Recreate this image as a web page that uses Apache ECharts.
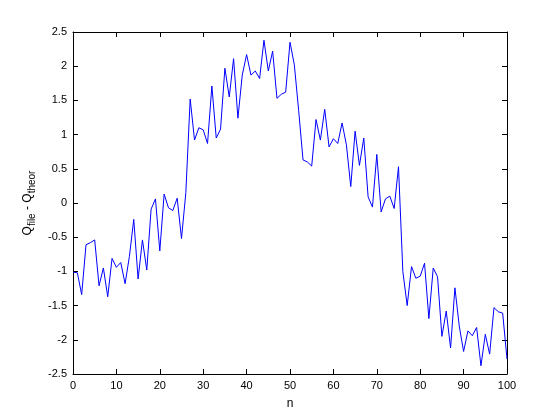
<!DOCTYPE html>
<html>
<head>
<meta charset="utf-8">
<script src="https://cdn.jsdelivr.net/npm/echarts@6/dist/echarts.min.js"></script>
<style>html,body{margin:0;padding:0;background:#fff;}#c{width:560px;height:420px;}</style>
</head>
<body>
<div id="c"></div>
<script>
var nValues = [];
for (var i = 0; i <= 100; i++) nValues.push(i);
var dq = [
 -1.01,-1.02,-1.34,-0.61,-0.58,-0.54,-1.21,-0.95,-1.37,-0.81,
 -0.94,-0.87,-1.18,-0.78,-0.24,-1.11,-0.54,-0.98,-0.09,0.06,
 -0.70,0.13,-0.07,-0.11,0.07,-0.52,0.15,1.52,0.92,1.10,
 1.07,0.87,1.71,0.95,1.08,1.97,1.55,2.11,1.24,1.87,
 2.17,1.87,1.93,1.82,2.38,1.93,2.22,1.53,1.59,1.62,
 2.35,2.02,1.35,0.63,0.60,0.54,1.22,0.92,1.37,0.82,
 0.94,0.87,1.17,0.85,0.24,1.05,0.55,0.95,0.09,-0.06,
 0.71,-0.13,0.06,0.10,-0.08,0.53,-1.00,-1.50,-0.93,-1.10,
 -1.07,-0.88,-1.69,-0.95,-1.08,-1.95,-1.58,-2.12,-1.24,-1.80,
 -2.17,-1.87,-1.94,-1.82,-2.38,-1.92,-2.21,-1.53,-1.59,-1.61,
 -2.28
];
var xName = 'n';
var yName = 'Q{sub|file} - Q{sub|theor}';

var chart = echarts.init(document.getElementById('c'));
var font = 'Liberation Sans, Arial, sans-serif';
var lineStyle = {color: '#000', width: 1};
var data = nValues.map(function (n, i) { return [n, dq[i]]; });
chart.setOption({
  animation: false,
  backgroundColor: '#fff',
  grid: {left: 73, right: 53, top: 32, bottom: 46, containLabel: false},
  xAxis: [{
    type: 'value', min: 0, max: 100, interval: 10, position: 'bottom',
    name: xName, nameLocation: 'middle', nameGap: 24,
    nameTextStyle: {color: '#000', fontSize: 12, fontFamily: font},
    axisLine: {show: true, onZero: false, lineStyle: lineStyle},
    axisTick: {show: true, inside: true, length: 5, lineStyle: lineStyle},
    axisLabel: {color: '#000', fontSize: 11, fontFamily: font, margin: 6},
    splitLine: {show: false}
  }, {
    type: 'value', min: 0, max: 100, interval: 10, position: 'top',
    axisLine: {show: true, onZero: false, lineStyle: lineStyle},
    axisTick: {show: true, inside: true, length: 5, lineStyle: lineStyle},
    axisLabel: {show: false}, splitLine: {show: false}
  }],
  yAxis: [{
    type: 'value', min: -2.5, max: 2.5, interval: 0.5, position: 'left',
    name: yName, nameLocation: 'middle', nameGap: 36, nameRotate: 90,
    nameTextStyle: {color: '#000', fontSize: 12, fontFamily: font,
      rich: {sub: {fontSize: 10, fontFamily: font, color: '#000', verticalAlign: 'bottom', padding: [8, 0, 0, 0]}}},
    axisLine: {show: true, onZero: false, lineStyle: lineStyle},
    axisTick: {show: true, inside: true, length: 5, lineStyle: lineStyle},
    axisLabel: {color: '#000', fontSize: 11, fontFamily: font, margin: 6},
    splitLine: {show: false}
  }, {
    type: 'value', min: -2.5, max: 2.5, interval: 0.5, position: 'right',
    axisLine: {show: true, onZero: false, lineStyle: lineStyle},
    axisTick: {show: true, inside: true, length: 5, lineStyle: lineStyle},
    axisLabel: {show: false}, splitLine: {show: false}
  }],
  series: [{
    type: 'line', data: data, xAxisIndex: 0, yAxisIndex: 0,
    showSymbol: false, symbol: 'none',
    lineStyle: {color: '#0000ff', width: 1}
  }]
});
</script>
</body>
</html>
